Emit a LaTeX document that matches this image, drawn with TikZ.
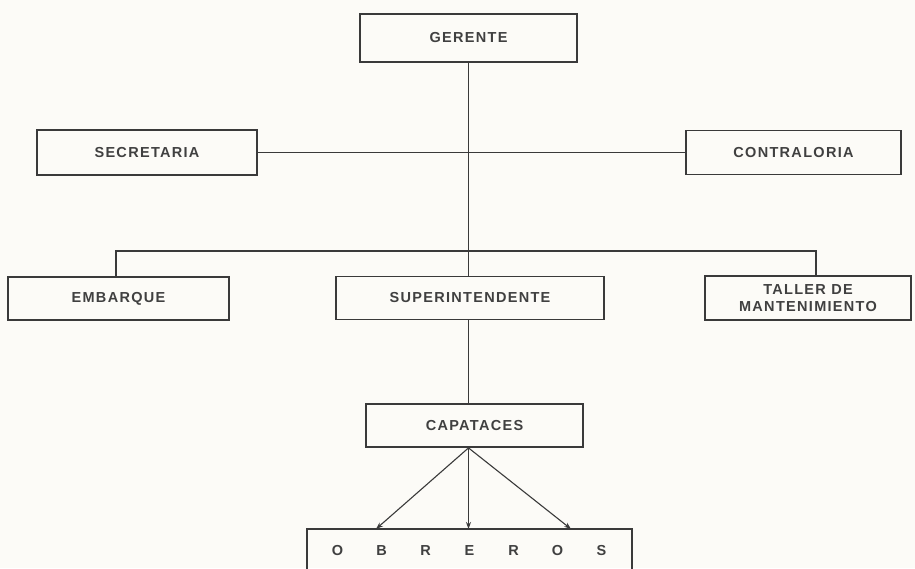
\documentclass[tikz,border=0pt]{standalone}
\usepackage{fontspec}
\setmainfont{Liberation Sans}[LetterSpace=9]
\usetikzlibrary{arrows.meta}
\definecolor{paper}{HTML}{FCFBF7}
\definecolor{ink}{HTML}{3A3A3A}
\definecolor{txt}{HTML}{404040}
\begin{document}
\begin{tikzpicture}[x=1pt,y=-1pt,
  box/.style={draw=ink, line width=1.8pt, rectangle, inner sep=0pt, text=txt, align=center,
              font=\bfseries\fontsize{14.5}{17}\selectfont},
  conn/.style={draw=ink, line width=1.1pt},
  arr/.style={conn, -{Stealth[length=7pt,width=5pt]}}]
\fill[paper] (0,0) rectangle (915,568);
\useasboundingbox (0,0) rectangle (915,568);
\clip (0,0) rectangle (915,568);
% boxes
\node[box, minimum width=217pt, minimum height=48pt] (ger) at (468.5,38) {GERENTE};
\node[box, minimum width=220pt, minimum height=45pt] (sec) at (147,152.5) {SECRETARIA};
\node[box, minimum width=215pt, minimum height=44pt] (con) at (793.5,152.5) {CONTRALORIA};
\node[box, minimum width=221pt, minimum height=43pt] (emb) at (118.5,298.5) {EMBARQUE};
\node[box, minimum width=268pt, minimum height=43pt] (sup) at (470,298) {SUPERINTENDENTE};
\node[box, minimum width=206pt, minimum height=44pt] (tal) at (808,298) {TALLER DE\\MANTENIMIENTO};
\node[box, minimum width=217pt, minimum height=43pt] (cap) at (474.5,425.5) {CAPATACES};
\node[box, minimum width=325pt, minimum height=43pt] (obr) at (469.5,550.5)
  {\makebox[44pt]{O}\makebox[44pt]{B}\makebox[44pt]{R}\makebox[44pt]{E}\makebox[44pt]{R}\makebox[44pt]{O}\makebox[44pt]{S}};
% connectors
\coordinate (barL) at (116,251);
\coordinate (barR) at (816,251);
\draw[conn] (ger.south) -- (ger.south |- sup.north);
\draw[conn] (sec.east) -- (con.west);
\draw[conn] (barL |- emb.north) -- (barL) -- (barR) -- (barR |- tal.north);
\draw[conn] (ger.south |- sup.south) -- (ger.south |- cap.north);
\coordinate (capo) at (ger.south |- cap.south);
\coordinate (oL) at (376,529);
\coordinate (oM) at (468.5,529);
\coordinate (oR) at (571,529);
\draw[arr] (capo) -- (oL);
\draw[arr] (capo) -- (oM);
\draw[arr] (capo) -- (oR);
\end{tikzpicture}
\end{document}
